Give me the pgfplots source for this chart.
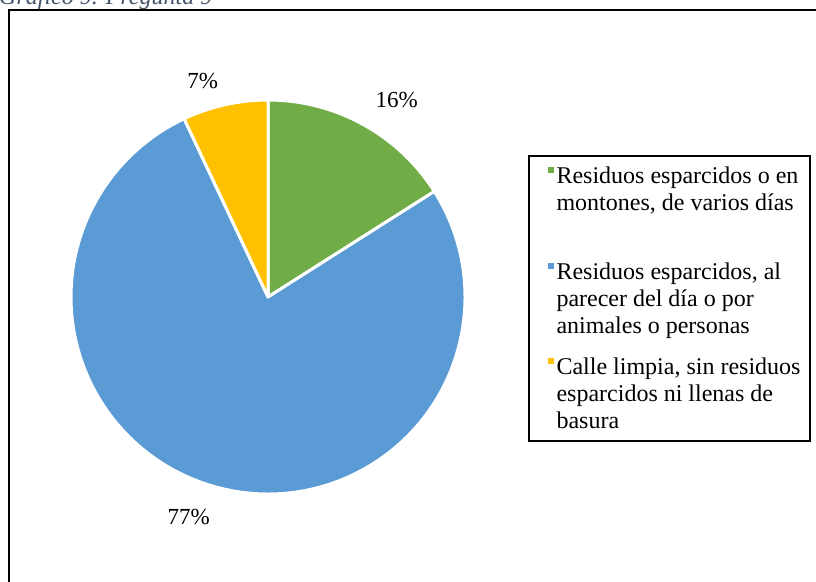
\documentclass[border=0pt]{standalone}
\usepackage{pgfplots}
\usepackage{pgfplotstable}
\pgfplotsset{compat=1.18}
\usepackage{fontspec}
\setmainfont{Liberation Serif}

\definecolor{verde}{RGB}{112,173,71}
\definecolor{azul}{RGB}{91,155,213}
\definecolor{amarillo}{RGB}{255,192,0}
\definecolor{titulo}{RGB}{68,84,106}

% porcentajes de cada respuesta
\pgfplotstableread{
valor
16
77
7
}\datos

\begin{document}
\begin{tikzpicture}
  \useasboundingbox (0,0) rectangle (816pt,581pt);
  \pgfplotstablegetelem{0}{valor}\of\datos \let\va\pgfplotsretval
  \pgfplotstablegetelem{1}{valor}\of\datos \let\vb\pgfplotsretval
  \pgfplotstablegetelem{2}{valor}\of\datos \let\vc\pgfplotsretval
  \pgfmathsetmacro\aA{90-3.6*\va}
  \pgfmathsetmacro\aB{\aA-3.6*\vb}
  \pgfmathsetmacro\aC{\aB-3.6*\vc}
  \begin{axis}[
      scale only axis,
      width=816pt, height=581pt,
      xmin=0, xmax=816, ymin=0, ymax=581,
      hide axis, clip=false,
      legend cell align=left,
      legend style={
        at={(0.6471,0.7332)}, anchor=north west,
        draw=black, line width=2pt,
        inner xsep=9pt, inner ysep=11pt,
        row sep=23.5pt, column sep=3pt,
        font=\fontsize{24}{27}\selectfont,
        nodes={align=left, inner sep=0pt},
      },
      cuadro/.style={legend image code/.code={
        \path[draw=none] (-11pt,30pt) -- (4.5pt,36pt);
        \fill[#1, draw=none] (-1.5pt,30pt) rectangle (4.5pt,36pt);}},
    ]
    % sectores
    \fill[verde, draw=white, line width=3pt, line join=round]
      (axis cs:268,284) -- ++(90:197pt) arc[start angle=90, end angle=\aA, radius=197pt] -- cycle;
    \fill[azul, draw=white, line width=3pt, line join=round]
      (axis cs:268,284) -- ++(\aA:197pt) arc[start angle=\aA, end angle=\aB, radius=197pt] -- cycle;
    \fill[amarillo, draw=white, line width=3pt, line join=round]
      (axis cs:268,284) -- ++(\aB:197pt) arc[start angle=\aB, end angle=\aC, radius=197pt] -- cycle;

    \addlegendimage{cuadro=verde}
    \addlegendentry{Residuos esparcidos o en\\montones, de varios días\\\phantom{p}}
    \addlegendimage{cuadro=azul}
    \addlegendentry{Residuos esparcidos, al\\parecer del día o por\\animales o personas}
    \addlegendimage{cuadro=amarillo}
    \addlegendentry{Calle limpia, sin residuos\\esparcidos ni llenas de\\basura}

    % etiquetas
    \node[font=\fontsize{23}{27}\selectfont] at (axis cs:396.7,481) {16\%};
    \node[font=\fontsize{23}{27}\selectfont] at (axis cs:202.8,500.3) {7\%};
    \node[font=\fontsize{23}{27}\selectfont] at (axis cs:188.8,64.3) {77\%};

    % marco y título
    \draw[line width=2pt] (axis cs:9,-5) -- (axis cs:9,571) -- (axis cs:830,571);
    \node[anchor=base west, inner sep=0pt, text=titulo,
          font=\fontsize{24}{28}\selectfont\itshape] at (axis cs:-1,576) {Gráfico 9. Pregunta 9};
  \end{axis}
\end{tikzpicture}
\end{document}
